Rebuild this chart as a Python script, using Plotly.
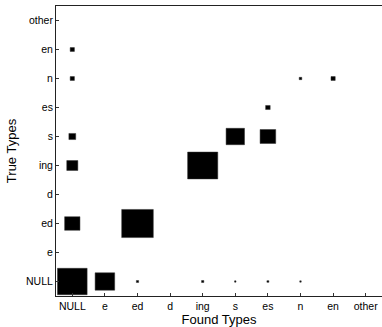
import plotly.graph_objects as go

categories = ["NULL", "e", "ed", "d", "ing", "s", "es", "n", "en", "other"]

# each cell: found type, true type, relative square size (fraction of a cell)
found_types = ["NULL", "e", "ed", "ing", "s", "es", "n",
               "NULL", "ed",
               "NULL", "ing",
               "NULL", "s", "es",
               "es",
               "NULL", "n", "en",
               "NULL"]
true_types = ["NULL", "NULL", "NULL", "NULL", "NULL", "NULL", "NULL",
              "ed", "ed",
              "ing", "ing",
              "s", "s", "s",
              "es",
              "n", "n", "n",
              "en"]
sizes = [0.91, 0.60, 0.07, 0.07, 0.045, 0.06, 0.045,
         0.47, 0.97,
         0.34, 0.925,
         0.21, 0.565, 0.48,
         0.14,
         0.13, 0.08, 0.13,
         0.13]

idx = {c: i for i, c in enumerate(categories)}
xs, ys = [], []
for f, t, s in zip(found_types, true_types, sizes):
    cx, cy, h = idx[f], idx[t], s / 2
    xs += [cx - h, cx + h, cx + h, cx - h, cx - h, None]
    ys += [cy - h, cy - h, cy + h, cy + h, cy - h, None]

fig = go.Figure(go.Scatter(
    x=xs, y=ys, mode="lines", fill="toself",
    fillcolor="black", line=dict(color="#333", width=0.5),
    hoverinfo="skip", showlegend=False,
))

font_family = "Liberation Sans, Arial, Helvetica, sans-serif"
fig.update_layout(
    template="none",
    width=382, height=327,
    margin=dict(l=56, r=0, t=6, b=31),
    paper_bgcolor="white", plot_bgcolor="white",
    font=dict(family=font_family, color="black", size=10.5),
    xaxis=dict(
        range=[-0.5, 9.5], tickvals=list(range(len(categories))), ticktext=categories,
        ticks="inside", ticklen=3, tickcolor="#333", tickwidth=1,
        showline=True, linecolor="#222",
        linewidth=1, mirror=True, showgrid=False, zeroline=False,
        title=dict(text="Found Types", font=dict(size=13, color="black"), standoff=2),
        tickfont=dict(size=10.5, color="black"),
    ),
    yaxis=dict(
        range=[-0.5, 9.5], tickvals=list(range(len(categories))), ticktext=categories,
        ticks="inside", ticklen=3, tickcolor="#333", tickwidth=1,
        showline=True, linecolor="#222",
        linewidth=1, showgrid=False, zeroline=False,
        title=dict(text="True Types", font=dict(size=13, color="black"), standoff=6),
        tickfont=dict(size=10.5, color="black"),
    ),
)

fig.write_html("out.html")
